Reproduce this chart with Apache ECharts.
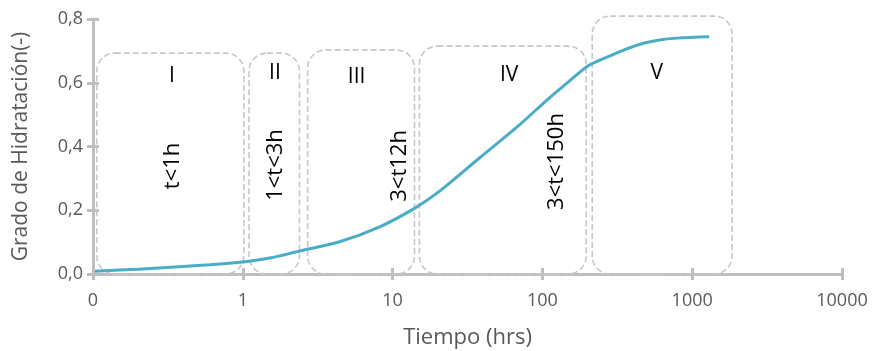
<!DOCTYPE html>
<html>
<head>
<meta charset="utf-8">
<script src="https://cdn.jsdelivr.net/npm/echarts@6/dist/echarts.min.js"></script>
<style>
  html, body { margin: 0; padding: 0; background: #fff; }
  #chart { width: 873px; height: 351px; }
</style>
</head>
<body>
<div id="chart"></div>
<script>
// curva de hidratación (tiempo en horas, escala log)
var tiempo = [0.103, 0.2, 0.33, 0.6, 1, 1.51, 2.4, 4.43, 8.19, 14, 20.6, 38, 70.3, 111, 151, 200, 240, 326, 443, 603, 794, 1298];
var grado = [0.009, 0.015, 0.021, 0.029, 0.038, 0.05, 0.072, 0.101, 0.148, 0.206, 0.26, 0.364, 0.468, 0.552, 0.605, 0.652, 0.670, 0.697, 0.72, 0.734, 0.74, 0.744];

// etapas
var etapas = ['I', 'II', 'III', 'IV', 'V'];
var etapaTexto = ['t<1h', '1<t<3h', '3<t12h', '3<t<150h', ''];
var etapaInicio = [0.106, 1.1, 2.71, 15.1, 215];
var etapaFin = [1.016, 2.39, 14, 196, 1848];
var etapaTope = [0.693, 0.693, 0.703, 0.715, 0.809];
var etapaNombreX = [0.336, 1.64, 5.75, 60, 580];
var etapaNombreY = [0.621, 0.631, 0.618, 0.624, 0.631];
var etapaTextoX = [0.34, 1.66, 11.1, 125, 580];
var etapaTextoY = [0.339, 0.342, 0.339, 0.353, 0.34];

var xTicks = [0.1, 1, 10, 100, 1000, 10000];

var fuente = '"Open Sans", sans-serif';
var myChart = echarts.init(document.getElementById('chart'));

var option = {
  animation: false,
  grid: { left: 93, right: 31, top: 19, bottom: 77, outerBoundsMode: 'none', containLabel: false },
  xAxis: [{
    type: 'log',
    logBase: 10,
    min: xTicks[0],
    max: xTicks[xTicks.length - 1],
    name: 'Tiempo (hrs)',
    nameLocation: 'middle',
    nameGap: 53,
    nameTextStyle: { color: '#595959', fontSize: 22, fontFamily: fuente },
    axisLine: { lineStyle: { color: '#bfbfbf', width: 3 } },
    axisTick: { length: 6, lineStyle: { color: '#bfbfbf', width: 3 } },
    minorTick: { show: false },
    splitLine: { show: false },
    axisLabel: {
      color: '#595959', fontSize: 18, fontFamily: fuente, margin: 18,
      formatter: function (v) { return v < 1 ? '0' : String(Math.round(v)); }
    }
  }, {
    type: 'log', logBase: 10, position: 'bottom',
    min: xTicks[0], max: xTicks[xTicks.length - 1],
    axisLine: { show: false },
    axisTick: { inside: true, length: 6, lineStyle: { color: '#bfbfbf', width: 3 } },
    axisLabel: { show: false },
    splitLine: { show: false }
  }],
  yAxis: [{
    type: 'value',
    min: 0,
    max: 0.8,
    interval: 0.2,
    name: 'Grado de Hidratación(-)',
    nameLocation: 'middle',
    nameGap: 61,
    nameTextStyle: { color: '#595959', fontSize: 21, fontFamily: fuente },
    axisLine: { show: true, lineStyle: { color: '#bfbfbf', width: 3 } },
    axisTick: { show: true, length: 6, lineStyle: { color: '#bfbfbf', width: 3 } },
    splitLine: { show: false },
    axisLabel: {
      color: '#595959', fontSize: 18, fontFamily: fuente, margin: 10,
      formatter: function (v) { return v.toFixed(1).replace('.', ','); }
    }
  }, {
    type: 'value', position: 'left', min: 0, max: 0.8, interval: 0.2,
    axisLine: { show: false },
    axisTick: { show: true, inside: true, length: 6, lineStyle: { color: '#bfbfbf', width: 3 } },
    axisLabel: { show: false },
    splitLine: { show: false }
  }],
  series: [{
    type: 'custom',
    clip: false,
    silent: true,
    data: etapas.map(function (e, i) { return [etapaInicio[i], etapaFin[i], etapaTope[i]]; }),
    encode: { x: [0, 1], y: 2 },
    renderItem: function (params, api) {
      var i = params.dataIndex;
      var p0 = api.coord([etapaInicio[i], etapaTope[i]]);
      var p1 = api.coord([etapaFin[i], 0]);
      var n = api.coord([etapaNombreX[i], etapaNombreY[i]]);
      var l = api.coord([etapaTextoX[i], etapaTextoY[i]]);
      return {
        type: 'group',
        children: [{
          type: 'rect',
          shape: { x: p0[0], y: p0[1], width: p1[0] - p0[0], height: p1[1] - p0[1], r: 18 },
          style: { fill: 'none', stroke: '#c8c8c8', lineWidth: 1.6, lineDash: [6, 3] }
        }, {
          type: 'text', x: n[0], y: n[1],
          style: { text: etapas[i], fill: '#000', font: '21px ' + fuente, align: 'center', verticalAlign: 'middle' }
        }, {
          type: 'text', x: l[0], y: l[1], rotation: Math.PI / 2,
          style: { text: etapaTexto[i], fill: '#000', font: '22px ' + fuente, align: 'center', verticalAlign: 'middle' }
        }]
      };
    }
  }, {
    type: 'line',
    smooth: 0.3,
    showSymbol: false,
    data: tiempo.map(function (t, i) { return [t, grado[i]]; }),
    lineStyle: { color: '#4bacc6', width: 3 },
    z: 5
  }]
};

myChart.setOption(option);
</script>
</body>
</html>
